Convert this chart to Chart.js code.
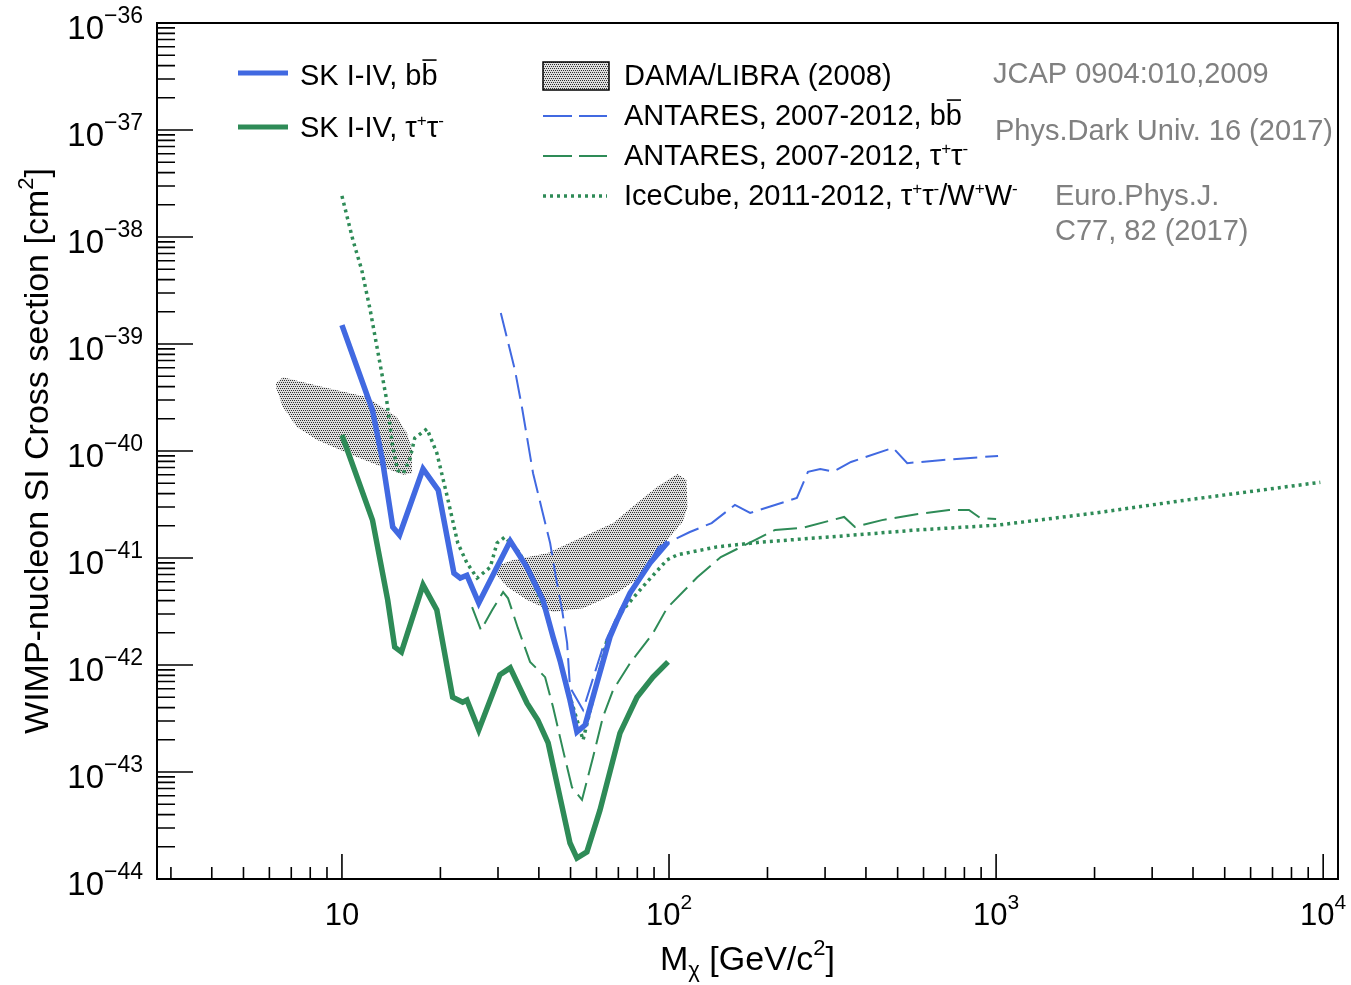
<!doctype html>
<html lang="en">

<head>
  <meta charset="utf-8">
  <title>WIMP-nucleon SI cross section limits</title>
  <script src="https://cdn.jsdelivr.net/npm/chart.js"></script>
  <style>
    html, body { margin: 0; padding: 0; background: #fff; }
    #wrap { width: 1351px; height: 985px; }
  </style>
</head>

<body>
  <div id="wrap"><canvas id="xsec" width="1351" height="985"></canvas></div>

  <script>
    // ---- data: WIMP mass [GeV/c2] and cross section [cm2] ----
    const skBbMass = [10, 12.4, 13.3, 14.3, 15.0, 17.7, 19.7, 22.0, 23.0, 24.1, 26.2, 32.7, 36.8, 41.2, 44.2, 46.4, 49.8, 52.3, 55.4, 60.2, 66.0, 69.4, 76.0, 87.5, 99.3];
    const skBbSigma = [1.5e-39, 2.4e-40, 8.2e-41, 1.95e-41, 1.64e-41, 6.8e-41, 4.3e-41, 7.2e-42, 6.5e-42, 6.9e-42, 3.8e-42, 1.44e-41, 8.2e-42, 4.0e-42, 1.83e-42, 1.11e-42, 4.7e-43, 2.37e-43, 2.75e-43, 6.8e-43, 1.83e-42, 2.63e-42, 4.7e-42, 9.0e-42, 1.41e-41];

    const skTtMass = [10, 12.4, 13.8, 14.5, 15.2, 17.7, 19.5, 21.8, 23.4, 24.1, 26.2, 30.4, 32.7, 36.8, 39.7, 42.7, 49.8, 52.3, 56.1, 61.5, 70.8, 79.8, 89.3, 99.3];
    const skTtSigma = [1.41e-40, 2.26e-41, 4.05e-42, 1.47e-42, 1.32e-42, 5.6e-42, 3.27e-42, 5.0e-43, 4.5e-43, 4.7e-43, 2.47e-43, 8.1e-43, 9.4e-43, 4.4e-43, 3.06e-43, 1.87e-43, 2.17e-44, 1.57e-44, 1.79e-44, 4.4e-44, 2.31e-43, 5.0e-43, 7.7e-43, 1.07e-42];

    const antBbMass = [30.6, 33.8, 35.5, 38.4, 40.9, 43.3, 45.1, 47.1, 48.8, 49.8, 54.6, 62.8, 70.8, 81.5, 93.1, 115.8, 135, 159, 177, 246, 266, 290, 318, 360, 484, 535, 675, 1014];
    const antBbSigma = [1.95e-39, 5.7e-40, 2.58e-40, 6.2e-41, 2.81e-41, 1.38e-41, 6.6e-42, 3.27e-42, 1.61e-42, 6.2e-43, 3.8e-43, 1.47e-42, 3.27e-42, 6.6e-42, 1.27e-41, 1.75e-41, 2.12e-41, 3.13e-41, 2.64e-41, 3.64e-41, 6.4e-41, 6.8e-41, 6.4e-41, 7.9e-41, 1.07e-40, 7.7e-41, 8.2e-41, 9.0e-41];

    const antTtMass = [25.0, 26.6, 28.8, 31.1, 32.2, 34.5, 37.6, 41.8, 44.2, 47.4, 50.5, 54.2, 58.6, 62.8, 67.4, 76.0, 89.4, 98.6, 122, 144, 183, 211, 255, 343, 370, 448, 577, 718, 826, 893, 1000];
    const antTtSigma = [3.48e-42, 2.12e-42, 3.27e-42, 4.8e-42, 4.2e-42, 2.22e-42, 1.07e-42, 7.7e-43, 4.05e-43, 1.61e-43, 7.2e-44, 5.5e-44, 1.38e-43, 3.27e-43, 5.8e-43, 1.04e-42, 1.99e-42, 3.4e-42, 6.6e-42, 1.02e-41, 1.47e-41, 1.83e-41, 1.91e-41, 2.42e-41, 1.95e-41, 2.26e-41, 2.58e-41, 2.81e-41, 2.81e-41, 2.37e-41, 2.31e-41];

    const iceMass = [10, 10.8, 11.5, 12.2, 12.9, 13.7, 14.3, 14.8, 15.4, 16.1, 16.7, 18.2, 19.5, 21.0, 22.6, 24.1, 25.9, 28.4, 29.8, 31.5, 35.0, 41.8, 48.1, 54.6, 59.4, 64.6, 72.3, 83.2, 98.6, 106, 140, 192, 308, 577, 1014, 2023, 3812, 9800];
    const iceSigma = [2.42e-38, 9.4e-39, 4.9e-39, 2.08e-39, 8.2e-40, 3.0e-40, 1.09e-40, 6.6e-41, 6.2e-41, 8.2e-41, 1.32e-40, 1.61e-40, 9.6e-41, 3.72e-41, 1.38e-41, 9.0e-42, 6.5e-42, 8.2e-42, 1.38e-41, 1.57e-41, 1.11e-41, 3.27e-42, 7.2e-43, 1.99e-43, 5.8e-43, 1.71e-42, 3.27e-42, 5.4e-42, 9.6e-42, 1.07e-41, 1.27e-41, 1.41e-41, 1.57e-41, 1.83e-41, 2.03e-41, 2.64e-41, 3.48e-41, 5.1e-41];

    // DAMA/LIBRA islands, upper and lower edges
    const damaAUpMass = [6.28, 6.60, 8.75, 11.9, 14.7, 15.8, 16.4];
    const damaAUpSigma = [4.3e-40, 4.9e-40, 3.96e-40, 3.2e-40, 2.08e-40, 1.47e-40, 1.02e-40];
    const damaALoMass = [6.28, 6.60, 7.28, 8.4, 11.1, 13.3, 15.4, 16.4];
    const damaALoSigma = [3.96e-40, 2.58e-40, 1.68e-40, 1.27e-40, 8.8e-41, 7.1e-41, 6.0e-41, 6.2e-41];

    const damaBUpMass = [29.0, 33.3, 42.4, 53.5, 67.5, 79.8, 91.8, 106, 113, 114];
    const damaBUpSigma = [8.2e-42, 9.6e-42, 1.11e-41, 1.54e-41, 2.12e-41, 3.27e-41, 4.6e-41, 6.1e-41, 5.4e-41, 3.0e-41];
    const damaBLoMass = [29.0, 29.4, 32.0, 36.8, 44.2, 54.6, 69.3, 81.5, 93.8, 98.6, 110, 114];
    const damaBLoSigma = [8.2e-42, 7.2e-42, 5.4e-42, 4.05e-42, 3.13e-42, 3.4e-42, 4.7e-42, 6.6e-42, 1.11e-41, 1.47e-41, 2.17e-41, 3.0e-41];

    // axis ticks
    const xMajor = [10, 100, 1000, 10000];
    const xMajorExp = [1, 2, 3, 4];
    const yMajorExp = [-36, -37, -38, -39, -40, -41, -42, -43, -44];

    const BLUE = 'rgb(65,105,225)';
    const GREEN = 'rgb(46,139,87)';
    const FONT = '"Liberation Sans", Arial, Helvetica, sans-serif';

    const pts = (m, s) => m.map((x, i) => ({ x: x, y: s[i] }));

    const canvas = document.getElementById('xsec');
    const ctx0 = canvas.getContext('2d');

    // dotted grey fill for DAMA
    const tile = document.createElement('canvas');
    tile.width = 4; tile.height = 4;
    const tc = tile.getContext('2d');
    tc.fillStyle = '#dedede';
    tc.fillRect(0, 0, 4, 4);
    tc.fillStyle = '#303030';
    [[0, 0], [2, 0], [1, 2], [3, 2]].forEach(p => tc.fillRect(p[0], p[1], 1, 1));
    const hatch = ctx0.createPattern(tile, 'repeat');

    // text made of pieces: {t, s (size), dy, bar}
    function drawParts(ctx, x, y, parts, align) {
      let w = 0;
      parts.forEach(p => { ctx.font = p.s + 'px ' + FONT; w += ctx.measureText(p.t).width; });
      let cx = align === 'right' ? x - w : align === 'center' ? x - w / 2 : x;
      ctx.textAlign = 'left';
      ctx.textBaseline = 'alphabetic';
      parts.forEach(p => {
        ctx.font = p.s + 'px ' + FONT;
        ctx.fillText(p.t, cx, y + (p.dy || 0));
        const tw = ctx.measureText(p.t).width;
        if (p.bar) {
          ctx.save();
          ctx.strokeStyle = ctx.fillStyle;
          ctx.lineWidth = 1.6;
          ctx.beginPath();
          ctx.moveTo(cx + 1, y - p.s * 0.86);
          ctx.lineTo(cx + tw - 1, y - p.s * 0.86);
          ctx.stroke();
          ctx.restore();
        }
        cx += tw;
      });
    }

    function hline(ctx, x1, x2, y, color, width, dash) {
      ctx.save();
      ctx.strokeStyle = color;
      ctx.lineWidth = width;
      ctx.setLineDash(dash || []);
      ctx.beginPath();
      ctx.moveTo(x1, y);
      ctx.lineTo(x2, y);
      ctx.stroke();
      ctx.restore();
    }

    const L = 29;      // legend font size
    const tauPM = [{ t: 'τ', s: L }, { t: '+', s: 17, dy: -11 }, { t: 'τ', s: L }, { t: '-', s: 17, dy: -11 }];

    const rootFrame = {
      id: 'rootFrame',
      afterDatasetsDraw(chart) {
        const ctx = chart.ctx;
        const a = chart.chartArea;
        const xs = chart.scales.x;
        const ys = chart.scales.y;
        ctx.save();

        // frame
        ctx.strokeStyle = '#000';
        ctx.lineWidth = 2;
        ctx.strokeRect(a.left, a.top, a.right - a.left, a.bottom - a.top);

        // ticks, drawn inwards
        ctx.lineWidth = 1.6;
        ctx.beginPath();
        for (let e = -44; e <= -36; e++) {
          for (let m = 1; m <= 9; m++) {
            const v = m * Math.pow(10, e);
            if (v < ys.min * 0.999 || v > ys.max * 1.001) continue;
            const py = ys.getPixelForValue(v);
            ctx.moveTo(a.left, py);
            ctx.lineTo(a.left + (m === 1 ? 36 : 18), py);
          }
        }
        for (let e = 0; e <= 4; e++) {
          for (let m = 1; m <= 9; m++) {
            const v = m * Math.pow(10, e);
            if (v < xs.min || v > xs.max) continue;
            const px = xs.getPixelForValue(v);
            ctx.moveTo(px, a.bottom);
            ctx.lineTo(px, a.bottom - (m === 1 ? 25 : 12));
          }
        }
        ctx.stroke();

        // tick labels
        ctx.fillStyle = '#000';
        yMajorExp.forEach(e => {
          const py = ys.getPixelForValue(Math.pow(10, e));
          drawParts(ctx, 143, py + 16, [{ t: '10', s: 33 }, { t: '−' + (-e), s: 23, dy: -16 }], 'right');
        });
        xMajor.forEach((v, i) => {
          const px = xs.getPixelForValue(v);
          const parts = xMajorExp[i] === 1 ? [{ t: '10', s: 31 }]
            : [{ t: '10', s: 31 }, { t: String(xMajorExp[i]), s: 21, dy: -16 }];
          drawParts(ctx, px, 925, parts, 'center');
        });

        // axis titles
        drawParts(ctx, (a.left + a.right) / 2, 970,
          [{ t: 'M', s: 34 }, { t: 'χ', s: 22, dy: 7 }, { t: ' [GeV/c', s: 34 }, { t: '2', s: 22, dy: -15 }, { t: ']', s: 34 }], 'center');
        ctx.save();
        ctx.translate(48, (a.top + a.bottom) / 2);
        ctx.rotate(-Math.PI / 2);
        drawParts(ctx, 0, 0,
          [{ t: 'WIMP-nucleon SI Cross section [cm', s: 34 }, { t: '2', s: 22, dy: -15 }, { t: ']', s: 34 }], 'center');
        ctx.restore();

        // legend
        hline(ctx, 238, 288, 73, BLUE, 5);
        drawParts(ctx, 300, 85, [{ t: 'SK I-IV, b', s: L }, { t: 'b', s: L, bar: true }]);
        hline(ctx, 238, 288, 127, GREEN, 5);
        drawParts(ctx, 300, 137, [{ t: 'SK I-IV, ', s: L }].concat(tauPM));

        ctx.fillStyle = hatch;
        ctx.fillRect(543, 62, 66, 28);
        ctx.strokeStyle = '#000';
        ctx.lineWidth = 1.5;
        ctx.strokeRect(543, 62, 66, 28);
        ctx.fillStyle = '#000';
        drawParts(ctx, 624, 85, [{ t: 'DAMA/LIBRA (2008)', s: L }]);

        hline(ctx, 543, 607, 116, BLUE, 2, [29, 7]);
        drawParts(ctx, 624, 125, [{ t: 'ANTARES, 2007-2012, b', s: L }, { t: 'b', s: L, bar: true }]);
        hline(ctx, 543, 607, 156, GREEN, 2, [29, 7]);
        drawParts(ctx, 624, 165, [{ t: 'ANTARES, 2007-2012, ', s: L }].concat(tauPM));
        hline(ctx, 543, 607, 196, GREEN, 3.5, [3, 4]);
        drawParts(ctx, 624, 205, [{ t: 'IceCube, 2011-2012, ', s: L }].concat(tauPM,
          [{ t: '/W', s: L }, { t: '+', s: 17, dy: -11 }, { t: 'W', s: L }, { t: '-', s: 17, dy: -11 }]));

        ctx.fillStyle = '#808080';
        drawParts(ctx, 993, 83, [{ t: 'JCAP 0904:010,2009', s: L }]);
        drawParts(ctx, 995, 140, [{ t: 'Phys.Dark Univ. 16 (2017)', s: L }]);
        drawParts(ctx, 1055, 205, [{ t: 'Euro.Phys.J.', s: L }]);
        drawParts(ctx, 1055, 240, [{ t: 'C77, 82 (2017)', s: L }]);

        ctx.restore();
      }
    };

    new Chart(canvas, {
      type: 'line',
      data: {
        datasets: [
          { label: 'SK I-IV, bb', data: pts(skBbMass, skBbSigma), borderColor: BLUE, borderWidth: 5.5, fill: false },
          { label: 'SK I-IV, tautau', data: pts(skTtMass, skTtSigma), borderColor: GREEN, borderWidth: 5.5, fill: false },
          { label: 'ANTARES bb', data: pts(antBbMass, antBbSigma), borderColor: BLUE, borderWidth: 2, borderDash: [24, 8], fill: false },
          { label: 'ANTARES tautau', data: pts(antTtMass, antTtSigma), borderColor: GREEN, borderWidth: 2, borderDash: [24, 8], fill: false },
          { label: 'IceCube', data: pts(iceMass, iceSigma), borderColor: GREEN, borderWidth: 3.5, borderDash: [3, 4], fill: false },
          { label: 'DAMA A up', data: pts(damaAUpMass, damaAUpSigma), borderColor: 'rgba(0,0,0,0)', borderWidth: 1, backgroundColor: hatch, fill: '+1' },
          { label: 'DAMA A lo', data: pts(damaALoMass, damaALoSigma), borderColor: 'rgba(0,0,0,0)', borderWidth: 1, fill: false },
          { label: 'DAMA B up', data: pts(damaBUpMass, damaBUpSigma), borderColor: 'rgba(0,0,0,0)', borderWidth: 1, backgroundColor: hatch, fill: '+1' },
          { label: 'DAMA B lo', data: pts(damaBLoMass, damaBLoSigma), borderColor: 'rgba(0,0,0,0)', borderWidth: 1, fill: false }
        ]
      },
      options: {
        responsive: false,
        animation: false,
        devicePixelRatio: 1,
        layout: { padding: { left: 157, top: 23, right: 13, bottom: 106 } },
        elements: { point: { radius: 0 }, line: { tension: 0 } },
        plugins: {
          legend: { display: false },
          tooltip: { enabled: false },
          filler: { propagate: false }
        },
        scales: {
          x: { type: 'logarithmic', min: 2.72, max: 11100, display: false },
          y: { type: 'logarithmic', min: 1e-44, max: 1e-36, display: false }
        }
      },
      plugins: [rootFrame]
    });
  </script>
</body>

</html>
